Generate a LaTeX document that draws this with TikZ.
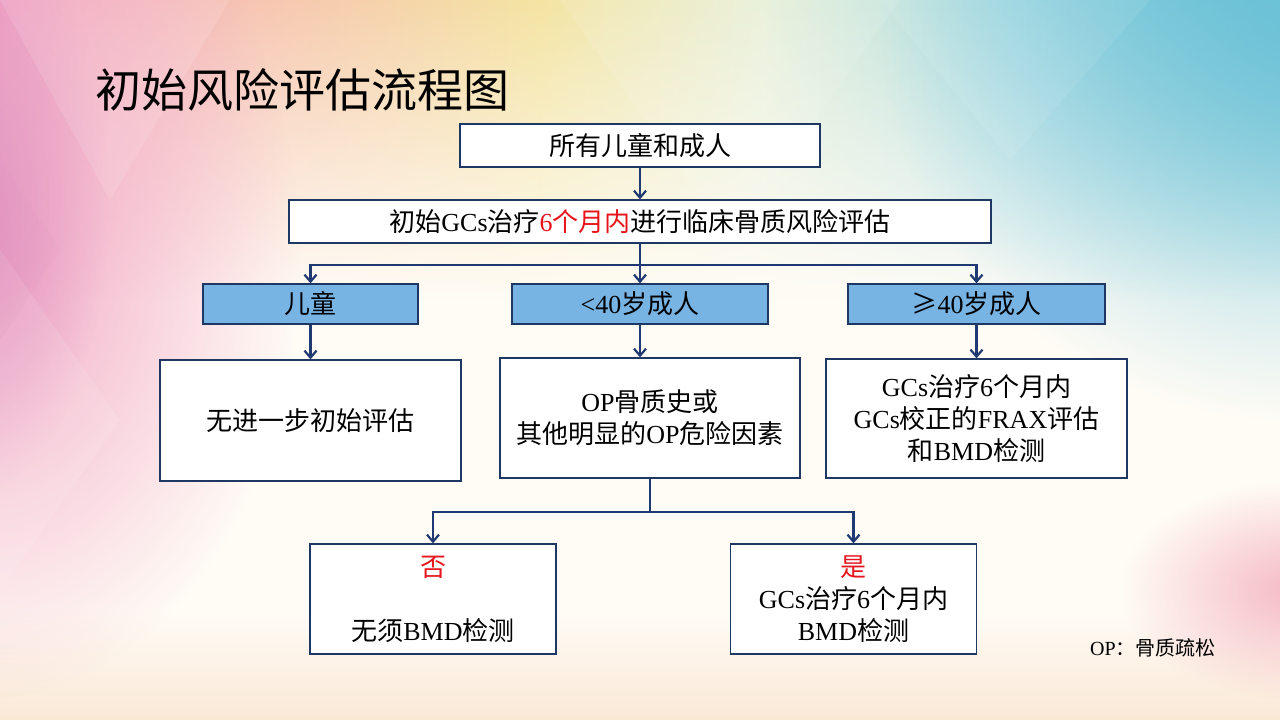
\documentclass[tikz,border=0pt]{standalone}
\usepackage{fontspec}
\setmainfont{Liberation Serif}
\newfontfamily\cjk{Noto Sans CJK SC}
\usetikzlibrary{arrows.meta,fadings}
\newcommand{\zh}[1]{{\cjk #1}}
\definecolor{bgbase}{HTML}{FFFCF6}
\definecolor{cpink}{HTML}{F2A6C4}
\definecolor{cpeach}{HTML}{F7C6B2}
\definecolor{cyellow}{HTML}{F4E4A2}
\definecolor{cpale}{HTML}{E8F0D8}
\definecolor{ccyan}{HTML}{A9DCE4}
\definecolor{cteal}{HTML}{6CC2D7}
\definecolor{cmag}{HTML}{D887BD}
\definecolor{cpinkb}{HTML}{F5B8C4}
\definecolor{cpeachb}{HTML}{FAE8D6}
\definecolor{cblue}{HTML}{77B4E3}
\definecolor{cborder}{HTML}{1F3763}
\definecolor{cline}{HTML}{1F3A73}
\definecolor{cred}{HTML}{E8141C}
\tikzfading[name=softc, inner color=transparent!0, outer color=transparent!100]
\tikzset{
  box/.style={draw=cborder, line width=1.3pt, fill=white, inner sep=0pt, align=center,
    font=\fontsize{26}{32}\selectfont},
  bluebox/.style={box, fill=cblue},
  conn/.style={draw=cline, line width=2.2pt, -{Straight Barb[length=7pt,width=12pt]}},
}
\begin{document}
\begin{tikzpicture}[x=1pt,y=1pt]
\useasboundingbox (0,0) rectangle (1280,720);
% ---------- background ----------
\fill[bgbase] (0,0) rectangle (1280,720);
\shade[bottom color=cpeachb, top color=bgbase] (0,0) rectangle (1280,110);
\foreach \xa/\xb/\ca/\cb in {0/260/cpink/cpeach, 260/540/cpeach/cyellow, 540/760/cyellow/cpale, 760/1020/cpale/ccyan, 1020/1280/ccyan/cteal}
  \shade[left color=\ca, right color=\cb, path fading=south] (\xa,420) rectangle (\xb,720);
\fill[cteal, path fading=softc, fill opacity=0.85] (1300,700) ellipse (420 and 400);
\fill[cpink, path fading=softc] (-20,460) ellipse (320 and 440);
\fill[cmag, path fading=softc, fill opacity=0.7] (-40,520) ellipse (150 and 300);
\fill[cpinkb, path fading=softc] (1300,130) ellipse (180 and 110);
\fill[white, fill opacity=0.12] (0,720) -- (230,720) -- (110,520) -- cycle;
\fill[white, fill opacity=0.10] (0,470) -- (120,300) -- (0,130) -- cycle;
\fill[cmag, fill opacity=0.08] (0,560) -- (60,470) -- (0,380) -- cycle;
\fill[white, fill opacity=0.10] (560,720) -- (900,720) -- (730,480) -- cycle;
\fill[white, fill opacity=0.08] (880,720) -- (1150,720) -- (1010,560) -- cycle;
% ---------- title ----------
\node[anchor=west, inner sep=0pt, font=\fontsize{46}{50}\selectfont] (title) at (95,630) {\zh{初始风险评估流程图}};
% ---------- boxes ----------
\node[box, minimum width=360pt, minimum height=43pt] (all) at (640,574.5) {\zh{所有儿童和成人}};
\node[box, minimum width=702pt, minimum height=43pt] (eval) at (640,498.5)
  {\zh{初始}GCs\zh{治疗}\textcolor{cred}{6\zh{个月内}}\zh{进行临床骨质风险评估}};
\node[bluebox, minimum width=215pt, minimum height=40pt] (kid) at (310.5,416) {\zh{儿童}};
\node[bluebox, minimum width=256pt, minimum height=40pt] (young) at (640,416) {<40\zh{岁成人}};
\node[bluebox, minimum width=257pt, minimum height=40pt] (old) at (976.5,416) {\zh{≥}40\zh{岁成人}};
\node[box, minimum width=301pt, minimum height=121pt] (nof) at (310.5,299.5) {\zh{无进一步初始评估}};
\node[box, minimum width=300pt, minimum height=120pt] (op) at (650,302)
  {OP\zh{骨质史或}\\\zh{其他明显的}OP\zh{危险因素}};
\node[box, minimum width=301pt, minimum height=119pt] (frax) at (976.5,301.5)
  {GCs\zh{治疗}6\zh{个月内}\\GCs\zh{校正的}FRAX\zh{评估}\\\zh{和}BMD\zh{检测}};
\node[box, minimum width=246pt, minimum height=110pt] (no) at (433,121)
  {\textcolor{cred}{\zh{否}}\\[32pt]\zh{无须}BMD\zh{检测}};
\node[box, minimum width=246pt, minimum height=110pt] (yes) at (853.5,121)
  {\textcolor{cred}{\zh{是}}\\GCs\zh{治疗}6\zh{个月内}\\BMD\zh{检测}};
\node[anchor=west, inner sep=0pt, font=\fontsize{20}{24}\selectfont] (note) at (1090,72) {OP\zh{：骨质疏松}};
% ---------- connectors ----------
\coordinate (j1) at (640,455);
\coordinate (j2) at (650,208);
\draw[conn] (all) -- (eval);
\draw[conn] (eval.south) -- (j1) -| (kid.north);
\draw[conn] (eval.south) -- (young.north);
\draw[conn] (eval.south) -- (j1) -| (old.north);
\draw[conn] (kid) -- (nof);
\draw[conn] (young.south) -- (young.south |- op.north);
\draw[conn] (old) -- (frax);
\draw[conn] (op.south) -- (j2) -| (no.north);
\draw[conn] (op.south) -- (j2) -| (yes.north);
\end{tikzpicture}
\end{document}
